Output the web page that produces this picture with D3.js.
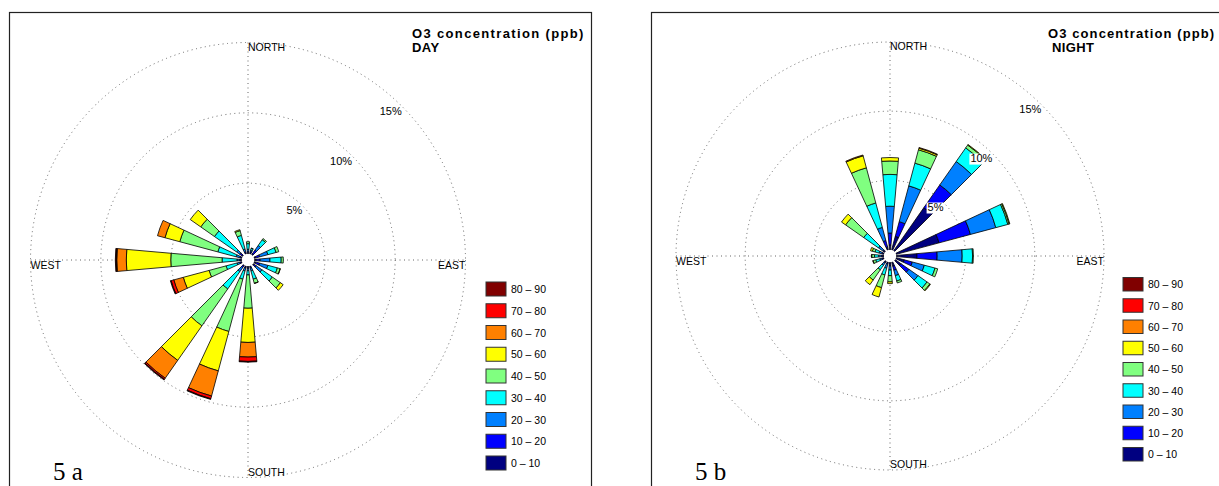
<!DOCTYPE html>
<html>
<head>
<meta charset="utf-8">
<script src="https://cdn.jsdelivr.net/npm/d3@7"></script>
<style>
  body { margin: 0; background: #fff; }
  svg { display: block; }
  text { font-family: "Liberation Sans", Arial, Helvetica, sans-serif; fill: #000; }
</style>
</head>
<body>
<svg id="chart" width="1219" height="486"></svg>
<script>
// Ozone concentration classes (ppb) and their colours
const classLabels = ["0 – 10", "10 – 20", "20 – 30", "30 – 40", "40 – 50",
                     "50 – 60", "60 – 70", "70 – 80", "80 – 90"];
const classColors = ["#000080", "#0000ff", "#0080ff", "#00ffff", "#80ff80",
                     "#ffff00", "#ff8000", "#ff0000", "#800000"];

// Wind directions (degrees from north) of the sectors
const directions = [0, 20, 40, 70, 90, 110, 130, 160, 180, 200, 220, 250, 270, 290, 310, 340];

// Frequency (%) per direction, one value per concentration class
const dayFreq = [
  [0.05, 0.10, 0.15, 0.40, 0.14, 0, 0, 0, 0],
  [0.05, 0.10, 0.10, 0.15, 0.02, 0, 0, 0, 0],
  [0.10, 0.30, 0.40, 0.50, 0.10, 0, 0, 0, 0],
  [0.10, 0.30, 0.60, 0.60, 0.20, 0, 0, 0, 0],
  [0.10, 0.30, 0.70, 0.80, 0.15, 0, 0, 0, 0],
  [0.10, 0.30, 0.60, 0.70, 0.20, 0.02, 0, 0, 0],
  [0.05, 0.20, 0.50, 0.90, 0.70, 0.24, 0, 0, 0],
  [0.05, 0.10, 0.20, 0.60, 0.30, 0.02, 0, 0, 0],
  [0.05, 0.10, 0.15, 0.30, 2.37, 2.43, 1.04, 0.31, 0.05],
  [0.05, 0.10, 0.20, 0.60, 3.85, 2.90, 1.85, 0.20, 0.05],
  [0.05, 0.15, 0.35, 1.50, 3.20, 3.00, 1.55, 0.10, 0.05],
  [0.05, 0.10, 0.20, 0.80, 1.25, 1.90, 0.70, 0.20, 0.05],
  [0.05, 0.10, 0.17, 1.06, 3.65, 3.16, 0.68, 0.04, 0.06],
  [0.05, 0.10, 0.26, 1.35, 2.80, 1.09, 0.55, 0, 0],
  [0.10, 0.15, 0.28, 1.92, 1.19, 0.91, 0, 0, 0],
  [0.05, 0.10, 0.20, 1.00, 0.35, 0.07, 0, 0, 0]
];

const nightFreq = [
  [0.34, 0.85, 1.94, 2.30, 0.97, 0.25, 0, 0, 0],
  [1.00, 1.10, 2.68, 1.70, 1.00, 0.12, 0.05, 0, 0],
  [3.80, 2.00, 2.07, 1.20, 0.25, 0.05, 0, 0, 0],
  [3.20, 2.35, 1.90, 0.90, 0.10, 0.05, 0, 0, 0],
  [1.48, 1.46, 1.81, 0.75, 0.06, 0, 0, 0, 0],
  [0.60, 0.60, 0.90, 0.80, 0.20, 0, 0, 0, 0],
  [0.50, 0.70, 0.80, 0.80, 0.25, 0.05, 0, 0, 0],
  [0.30, 0.30, 0.40, 0.40, 0.15, 0, 0, 0, 0],
  [0.10, 0.15, 0.30, 0.40, 0.45, 0.13, 0, 0, 0],
  [0.05, 0.10, 0.30, 0.50, 0.95, 0.70, 0, 0, 0],
  [0.05, 0.10, 0.20, 0.40, 0.90, 0.41, 0, 0, 0],
  [0.05, 0.10, 0.15, 0.30, 0.20, 0.02, 0, 0, 0],
  [0.05, 0.10, 0.20, 0.30, 0.20, 0.02, 0, 0, 0],
  [0.05, 0.10, 0.20, 0.30, 0.20, 0.14, 0, 0, 0],
  [0.05, 0.10, 0.40, 1.30, 1.60, 0.36, 0, 0, 0],
  [0.20, 0.49, 0.98, 1.83, 2.63, 0.90, 0.06, 0, 0]
];

// Percentage circles and compass labels
const ringTicks = [5, 10, 15];
const compassLabels = ["NORTH", "EAST", "SOUTH", "WEST"];
const titleText = "O3 concentration (ppb)";
const panelNames = ["DAY", " NIGHT"];
const panelTags = ["5 a", "5 b"];

const svg = d3.select("#chart");

const panels = [
  { freq: dayFreq, name: panelNames[0], tag: panelTags[0],
    frameX: 9, frameY: 12, frameW: 582,
    cx: 248, cy: 260, rMax: 217.5, r0: 6.5,
    titleX: 412, titleY: 37.5, titleSpacing: 1.35,
    legX: 486, legY: 282, legStep: 21.75, legH: 14,
    tagX: 53, tagY: 480 },
  { freq: nightFreq, name: panelNames[1], tag: panelTags[1],
    frameX: 651, frameY: 12, frameW: 600,
    cx: 890, cy: 256, rMax: 214, r0: 6.5,
    titleX: 1048, titleY: 37.5, titleSpacing: 1.1,
    legX: 1123, legY: 277.5, legStep: 21.25, legH: 13.5,
    tagX: 695, tagY: 480 }
];

panels.forEach(p => drawPanel(p));

function drawPanel(p) {
  const g = svg.append("g");

  // frame
  g.append("rect")
    .attr("x", p.frameX + 0.5).attr("y", p.frameY + 0.5)
    .attr("width", p.frameW).attr("height", 520)
    .attr("fill", "none").attr("stroke", "#222").attr("stroke-width", 1.2);

  const rose = g.append("g").attr("transform", `translate(${p.cx},${p.cy})`);

  // radial scale: percentage -> pixels, with a small empty centre
  const r = d3.scaleLinear().domain([0, d3.max(ringTicks)]).range([p.r0, p.rMax]);
  const toRad = d3.scaleLinear().domain([0, 360]).range([0, 2 * Math.PI]);

  // dotted circles
  rose.selectAll("circle.ring").data(ringTicks).join("circle")
    .attr("class", "ring")
    .attr("r", d => r(d))
    .attr("fill", "none").attr("stroke", "#666").attr("stroke-width", 1)
    .attr("stroke-dasharray", "1 3.5");

  // dotted axes
  const R = r(d3.max(ringTicks));
  rose.append("line").attr("x1", 0).attr("x2", 0).attr("y1", -R).attr("y2", R)
    .attr("stroke", "#666").attr("stroke-dasharray", "1 3.5");
  rose.append("line").attr("x1", -R).attr("x2", R).attr("y1", 0).attr("y2", 0)
    .attr("stroke", "#666").attr("stroke-dasharray", "1 3.5");

  // stacked wedges
  const arc = d3.arc();
  const wedges = [];
  directions.forEach((dir, i) => {
    let cum = 0;
    p.freq[i].forEach((v, k) => {
      if (v > 0) {
        wedges.push({ dir, k, lo: cum, hi: cum + v });
      }
      cum += v;
    });
  });
  rose.selectAll("path.wedge").data(wedges).join("path")
    .attr("class", "wedge")
    .attr("d", d => arc({
      innerRadius: r(d.lo), outerRadius: r(d.hi),
      startAngle: toRad(d.dir - 5), endAngle: toRad(d.dir + 5)
    }))
    .attr("fill", d => classColors[d.k])
    .attr("stroke", "#000").attr("stroke-width", 0.8)
    .attr("stroke-linejoin", "round");

  // white centre
  rose.append("circle").attr("r", p.r0 - 0.5).attr("fill", "#fff");

  // percentage labels at 45 degrees, right/top aligned with white background
  const fs = 11;
  ringTicks.forEach(t => {
    const x = r(t) * Math.SQRT1_2, y = -r(t) * Math.SQRT1_2;
    const label = rose.append("g");
    const txt = label.append("text")
      .attr("x", x).attr("y", y + fs * 0.78)
      .attr("text-anchor", "end").attr("font-size", fs).attr("fill", "#222")
      .text(t + "%");
    const bb = txt.node().getBBox();
    label.insert("rect", "text")
      .attr("x", bb.x - 1).attr("y", y).attr("width", bb.width + 1).attr("height", fs)
      .attr("fill", "#fff");
  });

  // compass labels
  const cfs = 10.5;
  rose.append("text").attr("x", 0).attr("y", -R + cfs * 0.78)
    .attr("font-size", cfs).attr("fill", "#222").text(compassLabels[0]);
  rose.append("text").attr("x", R).attr("y", cfs * 0.85)
    .attr("text-anchor", "end").attr("font-size", cfs).attr("fill", "#222").text(compassLabels[1]);
  rose.append("text").attr("x", 0).attr("y", R - 2)
    .attr("font-size", cfs).attr("fill", "#222").text(compassLabels[2]);
  rose.append("text").attr("x", -R).attr("y", cfs * 0.85)
    .attr("font-size", cfs).attr("fill", "#222").text(compassLabels[3]);

  // title, two lines
  const tfs = 13;
  g.append("text").attr("x", p.titleX).attr("y", p.titleY)
    .attr("font-size", tfs).attr("font-weight", "bold")
    .attr("letter-spacing", p.titleSpacing).text(titleText);
  g.append("text").attr("x", p.titleX).attr("y", p.titleY + 14.5)
    .attr("font-size", tfs).attr("font-weight", "bold")
    .attr("letter-spacing", 0.4)
    .attr("xml:space", "preserve").style("white-space", "pre").text(p.name);

  // legend (highest class on top)
  const legend = g.append("g");
  const order = d3.range(classLabels.length).reverse();
  order.forEach((k, j) => {
    const y = p.legY + j * p.legStep;
    legend.append("rect")
      .attr("x", p.legX).attr("y", y).attr("width", 20).attr("height", p.legH)
      .attr("fill", classColors[k]).attr("stroke", "#333").attr("stroke-width", 1);
    legend.append("text")
      .attr("x", p.legX + 25).attr("y", y + p.legH / 2 + 4)
      .attr("font-size", 10.5).attr("fill", "#222").text(classLabels[k]);
  });

  // panel tag
  g.append("text").attr("x", p.tagX).attr("y", p.tagY)
    .style("font-family", "'Liberation Serif', 'DejaVu Serif', serif")
    .attr("font-size", 25).text(p.tag);
}
</script>
</body>
</html>
